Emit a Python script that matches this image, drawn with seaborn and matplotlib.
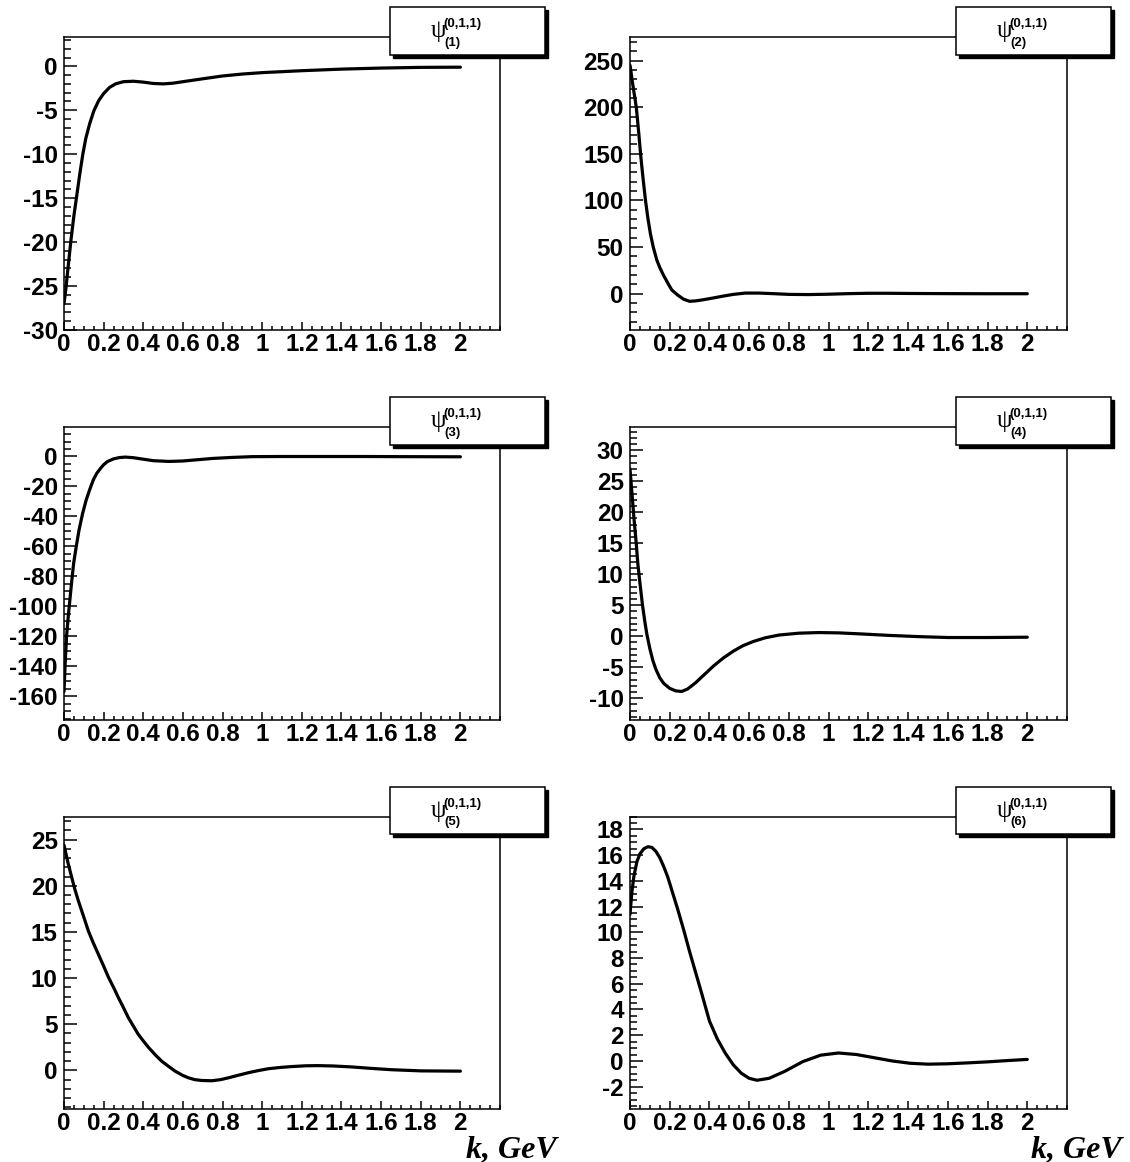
import matplotlib
matplotlib.use('Agg')
import pandas as pd
import seaborn as sns
import matplotlib.pyplot as plt
from matplotlib import font_manager
from matplotlib.patches import Rectangle
from matplotlib.ticker import MultipleLocator

# curves, psi^(0,1,1)_(n) vs k [GeV]
k1 = [0, 0.01, 0.02, 0.035, 0.05, 0.065, 0.08, 0.095, 0.11, 0.13, 0.15, 0.175, 0.2, 0.23, 0.26,
      0.3, 0.35, 0.4, 0.45, 0.5, 0.55, 0.6, 0.7, 0.8, 0.9, 1.0, 1.2, 1.4, 1.6, 1.8, 2.0]
psi1 = [-27, -25.2, -23, -19.8, -17, -14.6, -12.2, -10, -8.2, -6.5, -5.1, -3.9, -3.1, -2.4, -2.0,
        -1.75, -1.7, -1.8, -1.95, -2.0, -1.92, -1.75, -1.42, -1.1, -0.88, -0.72, -0.5, -0.32, -0.2, -0.12, -0.1]

k2 = [0, 0.005, 0.01, 0.015, 0.02, 0.026, 0.032, 0.038, 0.045, 0.054, 0.066, 0.078, 0.09, 0.103, 0.117,
      0.135, 0.15, 0.168, 0.19, 0.21, 0.24, 0.27, 0.3, 0.33, 0.37, 0.42, 0.47, 0.52, 0.58, 0.65, 0.72,
      0.8, 0.9, 1.0, 1.1, 1.2, 1.3, 1.4, 1.6, 1.8, 2.0]
psi2 = [245, 238, 230, 223, 216, 208, 199, 186, 170, 148, 123, 100, 81, 64, 50,
        36, 28, 20, 11.5, 4, -1.5, -6, -8.2, -7.8, -6.5, -4.6, -2.6, -0.8, 0.6, 0.6, 0,
        -0.8, -1.0, -0.6, 0, 0.4, 0.4, 0.2, 0, -0.1, -0.1]

k3 = [0, 0.006, 0.013, 0.022, 0.031, 0.04, 0.049, 0.062, 0.076, 0.094, 0.112, 0.13, 0.148, 0.165,
      0.185, 0.2, 0.22, 0.25, 0.28, 0.31, 0.35, 0.4, 0.45, 0.53, 0.6, 0.67, 0.75, 0.85, 0.95, 1.1,
      1.3, 1.5, 1.7, 2.0]
psi3 = [-157, -138, -120, -106, -94, -82, -71, -60, -49, -38, -29, -22, -15.6, -11.3,
        -7.8, -5.5, -3.3, -1.6, -0.7, -0.4, -0.8, -1.8, -2.8, -3.3, -3.0, -2.2, -1.3, -0.6, -0.1, 0,
        0, 0, -0.1, -0.2]

k4 = [0, 0.01, 0.02, 0.03, 0.04, 0.05, 0.063, 0.075, 0.085, 0.1, 0.115, 0.13, 0.15, 0.17, 0.2,
      0.23, 0.26, 0.29, 0.33, 0.37, 0.42, 0.47, 0.52, 0.57, 0.62, 0.68, 0.75, 0.85, 0.95, 1.05,
      1.15, 1.3, 1.45, 1.6, 1.8, 2.0]
psi4 = [27, 23, 19, 15.5, 11.5, 8.6, 5, 2.3, 0.3, -2.0, -3.9, -5.3, -6.7, -7.6, -8.4,
        -8.8, -8.9, -8.5, -7.5, -6.3, -4.8, -3.5, -2.4, -1.5, -0.85, -0.25, 0.2, 0.5, 0.6, 0.55,
        0.4, 0.15, -0.05, -0.2, -0.2, -0.15]

k5 = [0, 0.02, 0.039, 0.055, 0.072, 0.1, 0.123, 0.148, 0.173, 0.2, 0.224, 0.25, 0.274, 0.3, 0.325,
      0.35, 0.375, 0.4, 0.426, 0.46, 0.493, 0.53, 0.56, 0.6, 0.628, 0.66, 0.695, 0.746, 0.79, 0.83,
      0.88, 0.93, 0.98, 1.03, 1.09, 1.15, 1.22, 1.28, 1.36, 1.45, 1.55, 1.65, 1.8, 2.0]
psi5 = [24.4, 22.5, 20.9, 19.6, 18.4, 16.6, 15.1, 13.8, 12.6, 11.3, 10.1, 9.0, 7.9, 6.8, 5.7,
        4.8, 3.9, 3.2, 2.5, 1.7, 1.0, 0.4, -0.07, -0.55, -0.8, -1.0, -1.09, -1.12, -1.0, -0.8,
        -0.52, -0.25, -0.02, 0.18, 0.32, 0.42, 0.5, 0.52, 0.48, 0.38, 0.22, 0.08, -0.05, -0.08]

k6 = [0, 0.01, 0.02, 0.035, 0.05, 0.07, 0.09, 0.11, 0.13, 0.15, 0.17, 0.19, 0.21, 0.24, 0.27, 0.3,
      0.33, 0.36, 0.4, 0.44, 0.48, 0.52, 0.56, 0.6, 0.64, 0.7, 0.78, 0.87, 0.96, 1.05, 1.14, 1.23,
      1.32, 1.41, 1.5, 1.6, 1.7, 1.8, 1.9, 2.0]
psi6 = [11.4, 13.2, 14.4, 15.5, 16.1, 16.5, 16.65, 16.6, 16.3, 15.8, 15.1, 14.3, 13.3, 11.8, 10.2, 8.5,
        6.9, 5.3, 3.1, 1.7, 0.6, -0.3, -0.95, -1.35, -1.5, -1.35, -0.8, -0.05, 0.45, 0.62, 0.5, 0.25,
        0.0, -0.18, -0.25, -0.22, -0.15, -0.07, 0.03, 0.12]

subs = ["(1)", "(2)", "(3)", "(4)", "(5)", "(6)"]
ylims = [(-30, 3.3), (-39, 275), (-176, 19.5), (-13.5, 33.7), (-4.2, 27.5), (-3.75, 19)]
ysteps = [(5, 1), (50, 10), (20, 5), (5, 1), (5, 1), (2, 0.5)]

sns.set_style("ticks")
plt.rcParams['font.family'] = ['Liberation Sans', 'DejaVu Sans']
plt.rcParams['axes.unicode_minus'] = False
plt.rcParams['text.color'] = 'black'
plt.rcParams['xtick.color'] = 'black'
plt.rcParams['ytick.color'] = 'black'

# the reference tick labels are narrow and tall; use the narrow face if it exists
installed = {f.name for f in font_manager.fontManager.ttflist}
if 'Liberation Sans Narrow' in installed:
    tick_family, tick_size = 'Liberation Sans Narrow', 20
else:
    tick_family, tick_size = 'Liberation Sans', 17.5

W, H = 1130, 1162
fig = plt.figure(figsize=(W / 100, H / 100), dpi=100)

def fx(x):
    return x / W

def fy(y):
    return 1 - y / H

col_left = [64, 630]
col_w = [436, 437]
row_top = [37.3, 427.3, 816.5]
row_h = 292.7

ks = [k1, k2, k3, k4, k5, k6]
psis = [psi1, psi2, psi3, psi4, psi5, psi6]

for i in range(6):
    r, c = divmod(i, 2)
    left, top = col_left[c], row_top[r]
    ax = fig.add_axes([fx(left), fy(top + row_h), col_w[c] / W, row_h / H])
    df = pd.DataFrame({"k": ks[i], "psi": psis[i]})
    sns.lineplot(data=df, x="k", y="psi", ax=ax, color="black", linewidth=2.3)
    ax.set_ylim(*ylims[i])
    ax.set_xlabel("")
    ax.set_ylabel("")
    ax.xaxis.set_minor_locator(MultipleLocator(0.05))
    ax.yaxis.set_major_locator(MultipleLocator(ysteps[i][0]))
    ax.yaxis.set_minor_locator(MultipleLocator(ysteps[i][1]))
    ax.set_xticks([0, 0.2, 0.4, 0.6, 0.8, 1.0, 1.2, 1.4, 1.6, 1.8, 2.0])
    ax.set_xticklabels(["0", "0.2", "0.4", "0.6", "0.8", "1", "1.2", "1.4", "1.6", "1.8", "2"])
    ax.set_xlim(0, 2.2)
    ax.yaxis.set_major_formatter(plt.FuncFormatter(lambda v, p: "%g" % v))
    ax.tick_params(which="both", bottom=True, left=True, top=False, right=False,
                   direction="in", colors="black")
    ax.tick_params(axis="x", which="major", length=5.8, width=1.1, labelsize=tick_size, pad=2)
    ax.tick_params(axis="x", which="minor", length=2.9, width=1.1)
    ax.tick_params(axis="y", which="major", length=9.4, width=1.1, labelsize=tick_size, pad=4.5)
    ax.tick_params(axis="y", which="minor", length=4.7, width=1.1)
    for lab in ax.get_xticklabels() + ax.get_yticklabels():
        lab.set_fontweight("bold")
        lab.set_family([tick_family, 'Liberation Sans'])
    for sp in ax.spines.values():
        sp.set_visible(True)
        sp.set_linewidth(1.1)
        sp.set_color("black")

    # ROOT-style legend box with shadow
    bx0, bx1 = left + 326, left + 481
    by0, by1 = top - 30, top + 17.7
    shadow = Rectangle((fx(bx0 + 3), fy(by1 + 3)), (bx1 - bx0) / W, (by1 - by0) / H,
                       transform=fig.transFigure, facecolor="black", edgecolor="black", zorder=10)
    box = Rectangle((fx(bx0), fy(by1)), (bx1 - bx0) / W, (by1 - by0) / H,
                    transform=fig.transFigure, facecolor="white", edgecolor="black",
                    linewidth=1.1, zorder=11)
    fig.add_artist(shadow)
    fig.add_artist(box)
    fig.text(fx(bx0 + 48), fy(top - 6), "ψ", family=["Liberation Serif", "DejaVu Serif"],
             fontsize=18, ha="center", va="center", zorder=12)
    fig.text(fx(bx0 + 53), fy(top - 13), "(0,1,1)", fontsize=9.5, fontweight="bold",
             ha="left", va="center", zorder=12)
    fig.text(fx(bx0 + 54), fy(top + 6), subs[i], fontsize=9.5, fontweight="bold",
             ha="left", va="center", zorder=12)

for xr in [557, 1122]:
    fig.text(fx(xr), fy(1157), "k, GeV", family=["Liberation Serif", "DejaVu Serif"],
             fontsize=23, fontweight="bold", fontstyle="italic", ha="right", va="baseline")

plt.savefig("out.png", dpi=100)
